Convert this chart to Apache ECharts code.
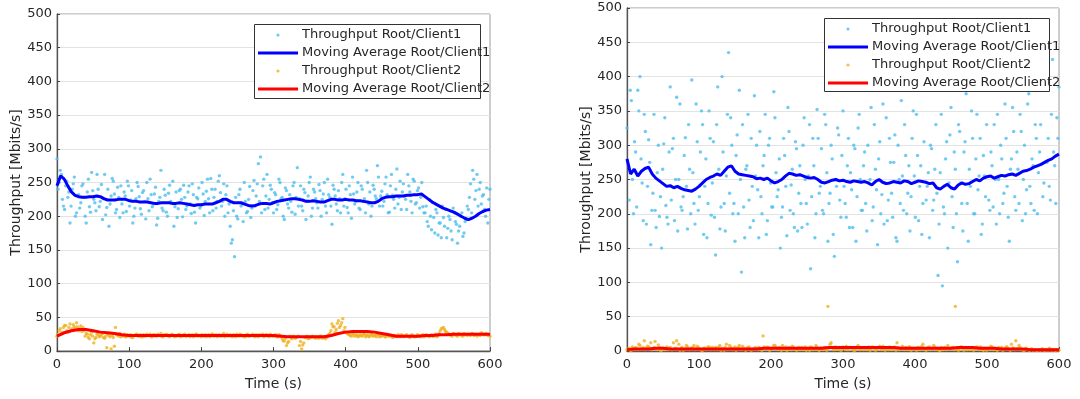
<!DOCTYPE html>
<html>
<head>
<meta charset="utf-8">
<script src="https://cdn.jsdelivr.net/npm/echarts@6/dist/echarts.min.js"></script>
<style>html,body{margin:0;padding:0;background:#fff;}#c{width:1080px;height:399px;}</style>
</head>
<body>
<div id="c"></div>
<script>
// ---- data (sampling steps in seconds) ----
// "main" samples at t = 0, 3, 6, ... ; "extra" samples at t = 1.5, 4.5, 7.5, ...
const scatterStep = 3;
const extraOffset = 1.5;
const ma1Step = 5;
const ma2Step = 10;
const xTicks = [0, 100, 200, 300, 400, 500, 600];
const yTicks = [0, 50, 100, 150, 200, 250, 300, 350, 400, 450, 500];
const seriesNames = ['Throughput Root/Client1', 'Moving Average Root/Client1', 'Throughput Root/Client2', 'Moving Average Root/Client2'];

// Left plot
const leftClient1 = [
  285,250,262,215,245,228,190,240,258,205,
  232,220,248,200,236,214,265,225,208,240,
  222,195,262,213,185,230,252,205,243,198,
  218,236,207,245,224,190,212,250,229,203,
  238,196,226,255,214,233,187,222,268,208,
  231,200,246,219,185,236,211,240,199,228,
  215,245,204,232,190,226,212,250,201,237,
  226,256,208,240,222,260,215,248,232,205,
  185,165,140,200,232,215,192,222,207,244,
  212,253,230,278,288,245,210,262,225,240,
  205,232,217,250,228,195,238,212,222,245,
  203,272,226,215,240,195,230,258,212,236,
  220,247,200,233,215,255,228,188,240,218,
  238,205,262,226,213,245,197,233,222,250,
  210,240,226,268,218,200,246,230,275,215,
  237,222,258,205,245,231,212,270,228,210,
  248,225,262,236,205,252,220,242,228,214,
  205,192,225,180,198,210,172,190,215,185,
  168,200,178,212,192,160,185,205,175,195,
  210,248,268,225,262,240,218,232,200,190,
  240];
const leftClient1Extra = [
  240,268,225,210,252,236,215,248,200,230,
  212,245,228,190,255,206,238,220,262,214,
  247,226,202,240,218,256,233,210,228,245,
  205,230,252,215,238,200,226,244,211,235,
  222,250,208,232,218,243,197,228,212,240,
  206,234,222,252,214,198,238,225,246,210,
  236,218,248,206,228,242,215,233,222,255,
  205,240,228,212,252,235,222,200,245,218,
  160,208,228,196,240,218,250,205,225,198,
  238,215,248,222,205,255,230,212,246,220,
  235,210,255,226,200,242,218,232,206,250,
  228,215,245,208,235,222,250,200,240,226,
  212,238,225,250,205,232,215,246,230,208,
  226,250,215,240,205,232,258,218,236,212,
  245,222,205,250,236,215,240,226,258,230,
  215,248,232,206,262,225,240,218,252,236,
  230,210,245,222,255,218,238,212,250,205,
  215,185,200,220,175,205,190,168,198,210,
  182,195,165,205,188,178,200,170,192,215,
  228,205,255,238,215,250,230,210,242,225];
const leftMA1 = [
  245,260,255,245,236,231,229,228,228,229,
  229,230,229,226,224,224,224,225,225,225,
  223,222,222,221,221,221,220,219,219,220,
  220,220,219,219,220,219,218,217,216,217,
  217,218,218,218,220,222,225,225,222,220,
  220,220,218,216,215,216,218,219,219,218,
  220,222,223,224,225,226,226,225,224,222,
  222,223,222,221,221,223,225,225,224,224,
  225,224,224,223,223,222,221,220,220,222,
  226,228,229,229,230,230,230,231,231,232,
  232,233,229,225,221,218,215,212,210,208,
  206,203,200,197,195,197,200,204,207,209,
  210];
const leftClient2 = [
  22,30,26,35,38,28,40,33,36,42,
  30,37,35,22,25,18,28,12,20,24,
  22,26,19,5,23,3,20,35,24,26,
  22,25,21,23,24,20,23,25,22,21,
  24,22,23,25,21,24,22,23,26,21,
  23,24,21,25,22,23,24,21,22,25,
  22,24,23,21,25,22,23,24,22,21,
  24,22,25,23,21,24,22,26,23,22,
  24,21,23,25,22,24,23,21,25,22,
  23,22,24,21,23,25,22,24,21,23,
  22,24,21,23,18,15,8,14,20,22,
  19,21,8,3,12,20,18,21,22,20,
  21,19,22,20,18,21,26,40,36,32,
  45,38,48,35,26,24,22,25,23,21,
  24,22,25,23,21,24,22,23,25,21,
  22,24,21,23,22,20,23,21,22,24,
  21,23,22,20,24,21,22,23,21,24,
  22,23,21,24,22,25,23,30,34,32,
  28,25,23,26,24,22,25,23,26,24,
  25,23,26,24,22,25,27,24,26,23,
  22];
const leftClient2Extra = [
  25,33,28,38,30,35,31,39,34,36,
  33,29,30,26,20,24,22,18,25,21,
  24,20,22,25,21,23,7,24,22,21,
  23,21,24,22,20,23,25,22,24,21,
  22,25,23,21,24,22,25,23,21,24,
  25,22,23,24,21,22,25,23,24,22,
  23,21,24,22,25,23,21,22,24,23,
  21,25,22,24,23,22,24,21,25,23,
  22,24,21,23,25,22,21,24,22,23,
  25,21,22,24,23,21,24,22,25,22,
  23,21,24,22,15,19,12,22,18,21,
  20,22,14,9,20,22,19,20,21,19,
  20,22,19,21,20,24,30,36,28,41,
  35,42,30,28,25,23,26,22,24,22,
  23,25,21,24,22,26,23,21,24,22,
  23,21,24,22,23,21,22,24,21,23,
  22,24,21,23,22,21,24,22,23,21,
  24,22,23,22,24,21,26,33,35,29,
  26,24,22,25,23,26,24,22,25,23,
  24,26,23,25,24,23,26,24,25,24];
const leftMA2 = [
  22,27,30,32,32,30,28,27,26,24,
  23,23,23,23,23,23,23,23,23,23,
  23,23,23,23,23,23,23,23,23,23,
  23,22,21,21,21,21,21,21,23,26,
  28,29,29,29,28,26,24,22,22,22,
  22,23,23,24,24,25,25,25,25,25,
  25];

// Right plot
const rightClient1 = [
  325,220,365,200,290,380,400,245,345,185,
  308,155,230,205,260,196,150,302,212,185,
  385,295,190,370,250,210,225,311,178,265,
  395,215,360,205,290,330,240,165,350,198,
  305,140,385,178,400,215,255,435,340,200,
  160,315,380,115,210,265,345,180,240,372,
  300,165,225,270,345,190,310,210,378,260,
  235,150,210,285,168,320,242,200,305,175,
  270,180,340,215,255,120,310,165,352,230,
  295,200,330,160,230,280,138,240,315,195,
  350,215,270,180,235,300,160,325,250,205,
  290,175,245,355,210,265,155,305,228,185,
  340,220,275,195,315,160,250,365,205,285,
  230,175,310,255,345,190,270,215,380,240,
  165,295,220,330,110,260,95,200,305,245,
  355,180,265,130,320,215,290,375,160,240,
  310,200,345,255,170,285,225,390,205,270,
  330,185,250,300,215,360,240,160,280,320,
  205,265,345,190,300,235,375,215,270,330,
  200,290,410,245,380,310,220,425,270,340,
  385];
const rightClient1Extra = [
  270,380,250,305,210,350,280,190,320,240,
  275,205,345,180,300,225,265,340,195,290,
  220,310,250,175,360,205,285,240,330,200,
  260,185,305,225,350,170,280,215,310,245,
  195,330,265,210,290,175,345,230,300,215,
  285,200,250,330,165,270,220,310,190,255,
  235,320,200,285,170,300,245,210,340,225,
  280,195,310,240,355,205,265,180,295,230,
  215,300,250,185,330,225,270,200,310,240,
  205,345,260,215,300,170,250,325,220,285,
  240,195,310,260,180,295,225,345,205,270,
  215,300,250,190,330,235,280,200,360,245,
  190,310,230,275,165,300,215,255,330,200,
  270,225,350,195,285,240,170,305,220,260,
  300,205,265,230,185,345,210,280,150,315,
  225,290,200,330,245,175,305,215,265,350,
  200,280,235,310,185,255,330,220,290,210,
  250,345,200,280,230,310,195,265,355,225,
  290,215,320,250,200,360,240,280,205,310,
  260,330,225,390,275,240,345,290,215,310];
const rightMA1 = [
  280,258,265,255,262,266,268,258,252,248,
  244,240,241,238,240,237,235,234,233,236,
  240,245,250,253,255,258,256,262,268,270,
  262,258,257,256,255,254,251,252,250,252,
  248,245,247,250,255,259,258,256,257,255,
  253,252,253,250,246,245,247,249,250,248,
  249,247,246,248,247,246,247,245,242,247,
  250,246,244,245,247,246,245,248,247,244,
  246,248,247,246,244,245,238,236,240,243,
  238,236,242,245,243,244,247,250,248,252,
  254,255,252,254,256,255,257,258,256,259,
  262,263,265,268,270,272,275,278,280,284,
  287];
const rightClient2 = [
  2,4,1,3,5,2,8,3,15,4,
  6,12,3,14,2,5,1,4,3,2,
  5,2,3,15,10,4,1,3,6,2,
  4,8,3,5,2,1,4,3,6,2,
  3,5,2,8,4,1,10,3,5,2,
  6,3,8,2,4,1,5,3,2,4,
  3,5,2,22,4,6,1,3,8,5,
  2,4,8,3,1,5,2,6,3,4,
  2,5,3,1,4,6,2,3,5,1,
  4,2,3,65,10,5,2,4,3,1,
  6,3,2,5,4,1,3,8,2,5,
  4,2,6,3,5,1,4,7,2,3,
  5,2,4,3,6,12,2,4,3,5,
  2,6,3,4,1,5,3,10,2,4,
  6,3,8,2,4,1,3,5,2,4,
  3,5,65,2,4,6,1,3,5,2,
  4,3,6,2,5,1,3,4,2,6,
  3,2,5,4,1,3,6,2,10,4,
  15,3,5,2,1,4,2,3,1,2,
  1,2,3,1,2,1,3,2,1,2,
  1];
const rightClient2Extra = [
  3,1,6,2,4,10,3,5,2,7,
  4,2,5,3,9,1,4,2,6,3,
  2,12,4,3,1,5,2,8,3,4,
  5,2,7,3,1,4,2,6,3,5,
  2,4,6,1,3,5,2,8,4,3,
  1,5,3,7,2,4,6,1,3,5,
  2,4,1,6,3,5,2,4,8,3,
  5,1,3,6,2,4,7,3,1,5,
  4,2,6,3,1,5,3,8,2,4,
  3,5,1,4,12,2,6,3,5,2,
  4,7,2,5,3,1,6,3,4,2,
  5,3,1,6,4,2,5,3,7,1,
  3,6,2,4,1,5,3,7,2,4,
  6,1,4,3,5,2,7,3,1,5,
  2,4,6,3,1,5,2,4,8,3,
  5,2,4,1,6,3,5,2,4,3,
  1,5,3,6,2,4,1,3,7,2,
  4,1,3,5,2,6,3,1,4,2,
  3,8,2,1,4,2,1,3,2,1,
  2,1,3,1,2,4,1,2,1,2];
const rightMA2 = [
  2,3,3,3,4,4,3,3,3,3,
  3,3,3,3,3,3,3,3,3,4,
  4,4,4,4,4,4,4,4,5,5,
  5,5,5,5,5,5,5,5,4,4,
  4,4,4,4,4,4,5,5,5,4,
  4,4,3,3,3,3,2,2,2,2,
  2];

// ---- styling ----
const C1 = '#4DBEEE', C2 = '#EDB120', B = '#0000FF', R = '#FF0000';
const FONT = 'DejaVu Sans';
const pairs = (vals, step, offset) => vals.map((v, i) => [(offset || 0) + i * step, v]);
const merged = (a, b) => pairs(a, scatterStep, 0).concat(pairs(b, scatterStep, extraOffset)).sort((p, q) => p[0] - q[0]);

function svgIcon(body) {
  return 'image://data:image/svg+xml;charset=utf-8,' + encodeURIComponent(
    '<svg xmlns="http://www.w3.org/2000/svg" width="40" height="14" viewBox="0 0 40 14">' + body + '</svg>');
}
const icons = [
  svgIcon('<circle cx="20" cy="7" r="1.6" fill="' + C1 + '"/>'),
  svgIcon('<rect x="0" y="5.5" width="40" height="3" fill="' + B + '"/>'),
  svgIcon('<circle cx="20" cy="7" r="1.6" fill="' + C2 + '"/>'),
  svgIcon('<rect x="0" y="5.5" width="40" height="3" fill="' + R + '"/>')
];

function makeXAxis(gi) {
  return {
    type: 'value', gridIndex: gi, min: 0, max: 600, interval: 100,
    name: 'Time (s)', nameLocation: 'middle', nameGap: 26,
    nameTextStyle: { fontFamily: FONT, fontSize: 14, color: '#262626' },
    axisLine: { show: true, onZero: false, lineStyle: { color: '#555', width: 1.3 } },
    axisTick: { show: true, inside: true, length: 4, lineStyle: { color: '#444' } },
    axisLabel: { fontFamily: FONT, fontSize: 13, color: '#262626', margin: 7 },
    splitLine: { show: false }
  };
}
function makeYAxis(gi) {
  return {
    type: 'value', gridIndex: gi, min: 0, max: 500, interval: 50,
    name: 'Throughput [Mbits/s]', nameLocation: 'middle', nameGap: 34,
    nameTextStyle: { fontFamily: FONT, fontSize: 14, color: '#262626' },
    axisLine: { show: true, onZero: false, lineStyle: { color: '#555', width: 1.3 } },
    axisTick: { show: true, inside: true, length: 3, lineStyle: { color: '#444' } },
    axisLabel: { fontFamily: FONT, fontSize: 13, color: '#262626', margin: 5 },
    splitLine: { show: true, lineStyle: { color: '#e3e3e3', width: 1 } }
  };
}
function makeSeries(gi, c1, c1x, m1, c2, c2x, m2) {
  return [
    { name: seriesNames[0], type: 'scatter', xAxisIndex: gi, yAxisIndex: gi, data: merged(c1, c1x),
      symbol: 'circle', symbolSize: 3.4, itemStyle: { color: C1 }, z: 2 },
    { name: seriesNames[1], type: 'line', xAxisIndex: gi, yAxisIndex: gi, data: pairs(m1, ma1Step),
      showSymbol: false, lineStyle: { color: B, width: 3 }, itemStyle: { color: B }, z: 3 },
    { name: seriesNames[2], type: 'scatter', xAxisIndex: gi, yAxisIndex: gi, data: merged(c2, c2x),
      symbol: 'circle', symbolSize: 3.4, itemStyle: { color: C2 }, z: 3 },
    { name: seriesNames[3], type: 'line', xAxisIndex: gi, yAxisIndex: gi, data: pairs(m2, ma2Step),
      showSymbol: false, lineStyle: { color: R, width: 3 }, itemStyle: { color: R }, z: 4 }
  ];
}
function makeLegend(left, top) {
  return {
    orient: 'vertical', left: left, top: top, padding: [4, 4, 4, 4], z: 20,
    itemWidth: 40, itemHeight: 14, itemGap: 4, selectedMode: false,
    textStyle: { fontFamily: FONT, fontSize: 13, color: '#262626', padding: [0, 0, 0, -1] },
    data: seriesNames.map((n, i) => ({ name: n, icon: icons[i] }))
  };
}

const chart = echarts.init(document.getElementById('c'), null, { renderer: 'canvas' });
chart.setOption({
  animation: false,
  backgroundColor: '#fff',
  grid: [
    { left: 57, top: 14, width: 433, height: 337, show: true, borderColor: '#9a9a9a', borderWidth: 1, backgroundColor: 'transparent' },
    { left: 627, top: 8, width: 432, height: 343, show: true, borderColor: '#9a9a9a', borderWidth: 1, backgroundColor: 'transparent' }
  ],
  xAxis: [makeXAxis(0), makeXAxis(1)],
  yAxis: [makeYAxis(0), makeYAxis(1)],
  legend: [makeLegend(254, 24), makeLegend(824, 18)],
  graphic: [
    { type: 'rect', z: 10, shape: { x: 254.5, y: 24.5, width: 226, height: 74 },
      style: { fill: '#fff', stroke: '#333', lineWidth: 1 } },
    { type: 'rect', z: 10, shape: { x: 824.5, y: 18.5, width: 225, height: 73 },
      style: { fill: '#fff', stroke: '#333', lineWidth: 1 } }
  ],
  series: makeSeries(0, leftClient1, leftClient1Extra, leftMA1, leftClient2, leftClient2Extra, leftMA2)
    .concat(makeSeries(1, rightClient1, rightClient1Extra, rightMA1, rightClient2, rightClient2Extra, rightMA2))
});
</script>
</body>
</html>
